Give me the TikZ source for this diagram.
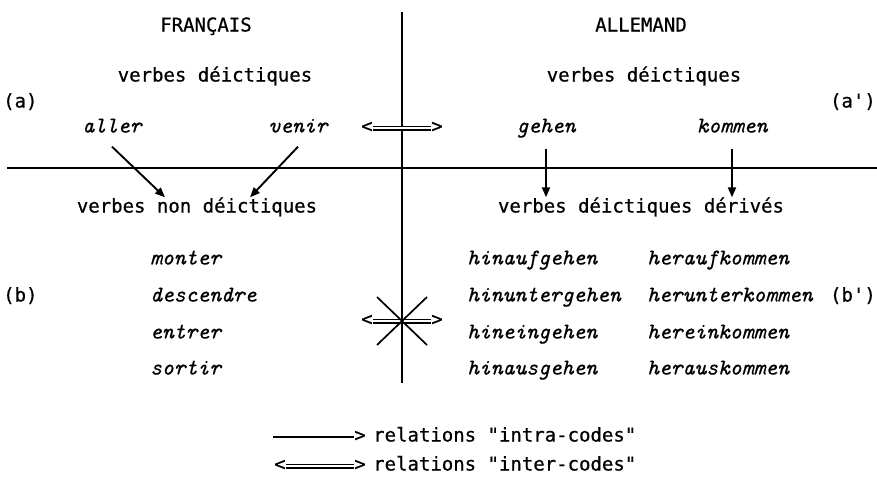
\documentclass[tikz,border=0pt]{standalone}
\usepackage{fontspec}
\newfontfamily\upf{DejaVu Sans Mono}[FakeBold=0.6]
\newfontfamily\itf{lmmono10-italic.otf}[FakeBold=0.6]
\usetikzlibrary{arrows.meta}
\begin{document}
\begin{tikzpicture}[x=1pt,y=-1pt,
  lab/.style={font=\upf\fontsize{19}{21}\selectfont, inner sep=0pt, text height=13pt, text depth=4pt},
  word/.style={font=\itf\fontsize{22.5}{24}\selectfont, inner sep=0pt, text height=13pt, text depth=4pt},
  rule/.style={line width=2.3pt},
  rel/.style={line width=1.9pt, -{Triangle[length=10pt,width=8pt]}},
  inter/.style={double, double distance=2.4pt, line width=1.3pt},
  thin/.style={line width=1.3pt},
  diag/.style={line width=1.7pt}]
\useasboundingbox (0,0) rectangle (877,482);
% axes
\coordinate (vt) at (402,12);
\coordinate (vb) at (402,383);
\coordinate (hl) at (7,168); \coordinate (hr) at (877,168);
\draw[rule] (vt) -- (vb);
\draw[rule] (hl) -- (hr);
% headings
\node[lab] (fr) at (206,27) {FRANÇAIS};
\node[lab] (de) at (641,27) {ALLEMAND};
\node[lab] (vdf) at (215,77) {verbes déictiques};
\node[lab] (vdd) at (644,77) {verbes déictiques};
\node[lab,anchor=west] (a) at (3,103) {(a)};
\node[lab,anchor=east] (ap) at (876,103) {(a')};
% deictic verbs
\node[word] (aller) at (112,128) {aller};
\node[word] (venir) at (298,128) {venir};
\node[word] (gehen) at (546,128) {gehen};
\node[word] (kommen) at (732,128) {kommen};
\node[lab] (il1) at (367,128) {<};
\node[lab] (ir1) at (437,128) {>};
\draw[inter] (il1.east) -- (ir1.west);
% second level
\node[lab] (vnd) at (197,208) {verbes non déictiques};
\node[lab] (vder) at (641,208) {verbes déictiques dérivés};
\draw[rel] ([yshift=-10pt]aller.south) -- ([xshift=-32pt,yshift=2pt]vnd.north);
\draw[rel] ([yshift=-10pt]venir.south) -- ([xshift=53pt,yshift=2pt]vnd.north);
\draw[rel] ([yshift=-12pt]gehen.south) -- ([yshift=2pt]gehen.south |- vder.north);
\draw[rel] ([yshift=-12pt]kommen.south) -- ([yshift=2pt]kommen.south |- vder.north);
% lists
\node[lab,anchor=west] (b) at (3,297) {(b)};
\node[lab,anchor=east] (bp) at (876,297) {(b')};
\node[word,anchor=west] (f1) at (150,260) {monter};
\node[word,anchor=west] (f2) at (150,297) {descendre};
\node[word,anchor=west] (f3) at (150,334) {entrer};
\node[word,anchor=west] (f4) at (150,370) {sortir};
\node[word,anchor=west] (g1) at (467,260) {hinaufgehen};
\node[word,anchor=west] (g2) at (467,297) {hinuntergehen};
\node[word,anchor=west] (g3) at (467,334) {hineingehen};
\node[word,anchor=west] (g4) at (467,370) {hinausgehen};
\node[word,anchor=west] (k1) at (647,260) {heraufkommen};
\node[word,anchor=west] (k2) at (647,297) {herunterkommen};
\node[word,anchor=west] (k3) at (647,334) {hereinkommen};
\node[word,anchor=west] (k4) at (647,370) {herauskommen};
% crossed-out inter relation
\coordinate (sc) at (402,321);
\node[lab] (il2) at (367,321) {<};
\node[lab] (ir2) at (437,321) {>};
\draw[inter] (il2.east) -- (ir2.west);
\draw[diag] ([shift={(-25,-24)}]sc) -- ([shift={(25,24)}]sc);
\draw[diag] ([shift={(25,-24)}]sc) -- ([shift={(-25,24)}]sc);
% legend
\coordinate (ls) at (273,437);
\node[lab] (lg1) at (360,437) {>};
\node[lab,anchor=west] (lt1) at (373,437) {relations "intra-codes"};
\draw[thin] (ls) -- (lg1.west);
\node[lab] (ll2) at (280,466) {<};
\node[lab] (lr2) at (360,466) {>};
\draw[inter] (ll2.east) -- (lr2.west);
\node[lab,anchor=west] (lt2) at (373,466) {relations "inter-codes"};
\end{tikzpicture}
\end{document}
